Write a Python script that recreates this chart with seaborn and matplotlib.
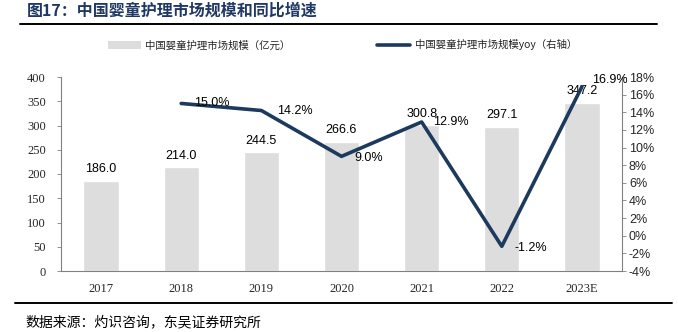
import matplotlib
matplotlib.use("Agg")
import matplotlib.pyplot as plt
import seaborn as sns
import pandas as pd
from matplotlib.lines import Line2D
from matplotlib.patches import Patch

years = ["2017", "2018", "2019", "2020", "2021", "2022", "2023E"]
market_size = [186.0, 214.0, 244.5, 266.6, 300.8, 297.1, 347.2]
yoy_years = ["2018", "2019", "2020", "2021", "2022", "2023E"]
yoy = [15.0, 14.2, 9.0, 12.9, -1.2, 16.9]

title = "图17：中国婴童护理市场规模和同比增速"
bar_legend = "中国婴童护理市场规模（亿元）"
line_legend = "中国婴童护理市场规模yoy（右轴）"
source = "数据来源：灼识咨询，东吴证券研究所"

sns.set_style("white")
plt.rcParams["font.family"] = ["Noto Sans CJK SC", "DejaVu Sans"]

CJK = ["Noto Sans CJK SC", "DejaVu Sans"]
SERIF = ["Liberation Serif", "DejaVu Serif"]
SANS = ["Liberation Sans", "DejaVu Sans"]

bar_color = "#DDDDDD"
line_color = "#1C3A5E"
title_color = "#1F3864"

fig = plt.figure(figsize=(6.78, 3.32), dpi=100)
ax = fig.add_axes([61 / 678, 61 / 332, 561 / 678, 194 / 332])

df = pd.DataFrame({"year": years, "size": market_size})
sns.barplot(data=df, x="year", y="size", color=bar_color, width=0.44,
            saturation=1, ax=ax, order=years)
ax.set_xlim(-0.5, len(years) - 0.5)
ax.set_ylim(0, 400)
ax.set_yticks(range(0, 401, 50))
ax.set_xlabel("")
ax.set_ylabel("")

for i, v in enumerate(market_size):
    ax.annotate(f"{v:.1f}", (i, v), xytext=(0, 4), textcoords="offset points",
                ha="center", va="bottom", fontsize=9, family=SANS, color="#000000")

ax2 = ax.twinx()
xpos = [years.index(y) for y in yoy_years]
ldf = pd.DataFrame({"x": xpos, "yoy": yoy})
sns.lineplot(data=ldf, x="x", y="yoy", color=line_color, linewidth=2.6, ax=ax2,
             legend=False)
ax2.set_ylim(-4, 18)
ax2.set_yticks(range(-4, 19, 2))
ax2.set_yticklabels([f"{t}%" for t in range(-4, 19, 2)])
ax2.set_xlabel("")
ax2.set_ylabel("")
ax.set_xlim(-0.5, len(years) - 0.5)

offsets = [(9, 0), (11, 0), (9, -1), (8, 0), (9, -1), (7, 5)]
for x, v, off in zip(xpos, yoy, offsets):
    ax2.annotate(f"{v:.1f}%", (x, v), xytext=off, textcoords="offset points",
                 ha="left", va="center", fontsize=9, family=SANS, color="#000000")

# spines and ticks
for a in (ax, ax2):
    a.spines["top"].set_visible(False)
    for s in ("left", "right", "bottom"):
        a.spines[s].set_color("#808080")
        a.spines[s].set_linewidth(0.8)
ax.spines["right"].set_visible(False)
ax2.spines["left"].set_visible(False)
ax2.spines["bottom"].set_visible(False)

ax.tick_params(axis="y", direction="out", length=3, width=0.6, color="#808080",
               labelsize=9, pad=8)
ax.tick_params(axis="x", length=0, labelsize=9, pad=9)
for lab in ax.get_yticklabels() + ax.get_xticklabels():
    lab.set_family(SERIF)
ax2.tick_params(axis="y", direction="out", length=3, width=0.6, color="#808080",
                labelsize=9, pad=2)
for lab in ax2.get_yticklabels():
    lab.set_family(SANS)

# category boundary ticks on x axis
ax.set_xticks([i + 0.5 for i in range(len(years) - 1)], minor=True)
ax.tick_params(axis="x", which="minor", direction="in", length=3, width=0.6,
               color="#808080")

# title and rules
fig.text(27 / 678, 1 - 11 / 332, title, fontsize=11.5, fontweight="bold",
         color=title_color, family=CJK, ha="left", va="center")
fig.add_artist(Line2D([20 / 678, 657 / 678], [1 - 24 / 332, 1 - 24 / 332],
                      color="#000000", linewidth=1.4))
fig.add_artist(Line2D([15 / 678, 672 / 678], [1 - 303 / 332, 1 - 303 / 332],
                      color="#000000", linewidth=1.4))
fig.text(25 / 678, 1 - 322 / 332, source, fontsize=10, color="#000000",
         family=CJK, ha="left", va="center")

handles = [Patch(facecolor=bar_color, edgecolor="none"),
           Line2D([0], [0], color=line_color, linewidth=2.6)]
fig.legend(handles, [bar_legend, line_legend], loc="center",
           bbox_to_anchor=(0.505, 1 - 45 / 332), ncol=2, frameon=False,
           fontsize=7.5, handlelength=3.2, handleheight=0.9, columnspacing=8.3,
           handletextpad=0.4)

fig.savefig("out.png", dpi=100)
